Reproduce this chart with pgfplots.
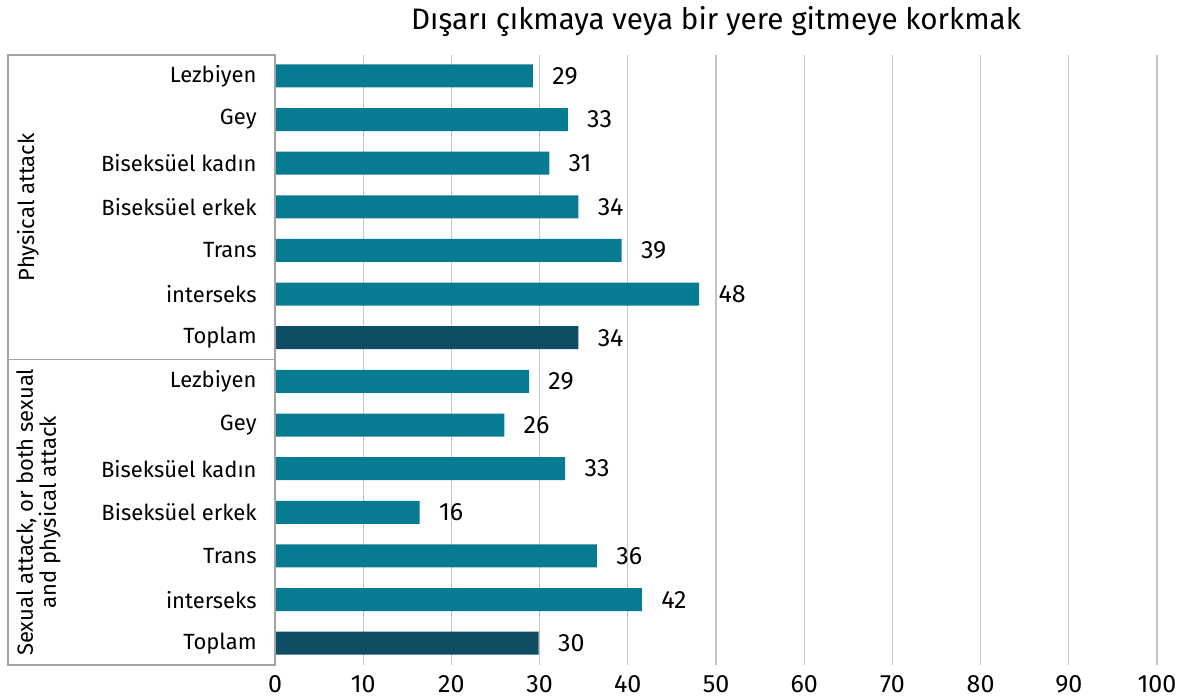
\documentclass[border=0pt]{standalone}
\usepackage{pgfplots}
\pgfplotsset{compat=1.18}
\usepackage{fontspec}
\setmainfont{Fira Sans}
\definecolor{barteal}{HTML}{067B92}
\definecolor{bardark}{HTML}{0F4D64}
\definecolor{gridgray}{HTML}{C4C4C4}
\definecolor{framegray}{HTML}{A3A3A3}
\newcommand{\lblfont}{\fontsize{11}{11.5}\selectfont}
\newcommand{\numfont}{\fontsize{12.5}{13}\selectfont}

\begin{document}
\begin{tikzpicture}
\begin{axis}[
  scale only axis, width=441pt, height=305pt,
  xmin=0, xmax=100, ymin=0.52, ymax=14.5, y dir=reverse,
  xbar, bar width=11.5pt, bar shift=0pt,
  xtick={0,10,...,100}, xmajorgrids=true,
  grid style={gridgray, line width=0.6pt},
  ytick={1,...,14},
  yticklabels={Lezbiyen,Gey,Biseksüel kadın,Biseksüel erkek,Trans,interseks,Toplam,
               Lezbiyen,Gey,Biseksüel kadın,Biseksüel erkek,Trans,interseks,Toplam},
  major tick length=0pt,
  axis line style={draw=none},
  yticklabel style={font=\lblfont, inner sep=0pt, xshift=-9pt},
  xticklabel style={font=\numfont, inner sep=0pt, yshift=-5pt},
  /pgf/number format/assume math mode=true,
  nodes near coords, point meta=explicit symbolic,
  every node near coord/.append style={anchor=west, inner sep=0pt, xshift=9.5pt,
    font=\numfont, text=black},
  title={Dışarı çıkmaya veya bir yere gitmeye korkmak},
  title style={at={(0.5,1)}, anchor=center, yshift=10.5pt,
    font=\fontsize{14.8}{16}\selectfont},
  clip=false,
]
\addplot[fill=barteal, draw=none] coordinates {
  (29.25,1) [29] (33.2,2) [33] (31.1,3) [31] (34.4,4) [34] (39.3,5) [39] (48.1,6) [48]
  (28.8,8) [29] (26.0,9) [26] (32.9,10) [33] (16.4,11) [16] (36.5,12) [36] (41.6,13) [42]};
\addplot[fill=bardark, draw=none] coordinates {
  (34.4,7) [34] (29.9,14) [30]};

\draw[framegray, line width=0.7pt]
  ([xshift=-133.5pt]rel axis cs:0,1) -- (rel axis cs:0,1) -- (rel axis cs:0,0)
  -- ([xshift=-133.5pt]rel axis cs:0,0) -- cycle;
\draw[framegray, line width=0.7pt] ([xshift=-133.5pt]axis cs:0,7.5) -- (axis cs:0,7.5);

\node[rotate=90, font=\lblfont, align=center] at ([xshift=-123.5pt]axis cs:0,4.01) {Physical attack};
\node[rotate=90, font=\lblfont, align=center] at ([xshift=-118.25pt]axis cs:0,11)
  {Sexual attack, or both sexual\\and physical attack};

\coordinate (bl) at (rel axis cs:0,0);
\coordinate (tr) at (rel axis cs:1,1);
\end{axis}
\pgfresetboundingbox
\useasboundingbox ([xshift=-137.5pt,yshift=-17.5pt]bl) rectangle ([xshift=15.5pt,yshift=27.5pt]tr);
\end{tikzpicture}
\end{document}
